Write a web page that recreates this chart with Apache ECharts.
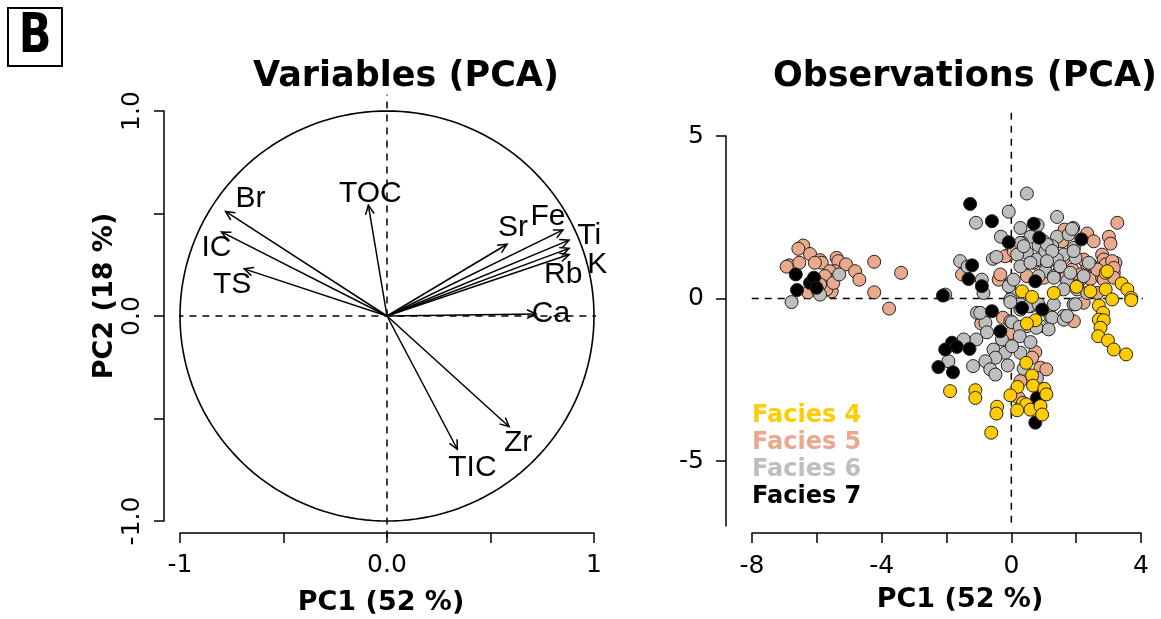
<!DOCTYPE html>
<html>
<head>
<meta charset="utf-8">
<script src="https://cdn.jsdelivr.net/npm/echarts@6/dist/echarts.min.js"></script>
<style>
  html, body { margin: 0; padding: 0; background: #ffffff; }
  #chart { width: 1161px; height: 619px; }
</style>
</head>
<body>
<div id="chart"></div>
<script>
// ---- Variables: PCA loadings on PC1 / PC2 ----
const variables   = ['Br', 'IC', 'TS', 'TOC', 'Sr', 'Fe', 'Ti', 'K', 'Rb', 'Ca', 'TIC', 'Zr'];
const pc1Loadings = [-0.78, -0.80, -0.69, -0.09, 0.58, 0.85, 0.88, 0.88, 0.88, 0.72, 0.34, 0.59];
const pc2Loadings = [0.51, 0.41, 0.23, 0.54, 0.35, 0.42, 0.37, 0.33, 0.30, 0.01, -0.65, -0.54];

// ---- Observations: PCA scores [PC1, PC2] per facies ----
const facies4Scores = [
  [2.91,0.79],[3.40,0.46],[3.58,0.28],[3.70,0.02],[2.44,0.22],[2.91,0.28],[1.31,0.17],[0.33,0.22],[0.64,0.05],[2.96,0.84],
  [2.01,0.36],[0.74,-0.67],[0.48,-0.77],[2.70,-0.22],[2.83,-0.44],[2.70,-0.65],[2.85,-0.67],[2.75,-0.90],[2.68,-1.16],
  [2.98,-1.29],[3.16,-1.57],[3.54,-1.72],[3.11,-0.03],[3.70,-0.05],[0.46,-1.98],[0.64,-2.37],[0.19,-2.72],[0.67,-2.68],
  [1.02,-2.78],[1.08,-2.95],[-0.03,-2.98],[0.36,-3.21],[0.46,-3.26],[0.59,-3.42],[0.90,-3.31],[0.95,-3.57],[0.18,-3.44],
  [-0.44,-3.33],[-0.46,-3.54],[-1.89,-2.85],[-1.11,-2.82],[-1.11,-3.06],[-0.62,-4.13]
];
const facies5Scores = [
  [-6.42,1.63],[-6.57,1.53],[-6.21,1.37],[-6.85,1.02],[-6.54,1.10],[-5.90,1.18],[-5.85,1.10],[-6.06,1.10],[-5.39,1.25],
  [-5.34,1.15],[-5.10,1.05],[-5.44,0.84],[-5.60,0.84],[-4.82,0.84],[-4.69,0.58],[-5.60,0.58],[-5.75,0.69],[-5.80,0.38],
  [-5.54,0.22],[-6.27,0.19],[-5.70,0.28],[-6.06,0.58],[-4.23,1.13],[-3.40,0.79],[-4.23,0.19],[-3.77,-0.31],[-5.90,0.43],
  [-5.49,0.48],[-6.93,0.98],
  [3.27,2.33],[1.64,2.12],[2.34,2.00],[3.01,1.90],[2.54,1.76],[3.06,1.69],[1.57,1.76],[-0.08,1.35],[-0.19,1.30],[0.69,1.10],
  [1.88,0.89],[2.80,1.35],[2.85,1.20],[3.21,1.10],[2.34,1.02],[2.70,0.89],[2.13,0.74],[2.44,0.60],[2.80,0.64],[3.16,0.79],
  [1.51,0.91],[0.48,0.69],[1.67,0.64],[2.65,0.17],[-1.52,0.74],[-0.39,0.58],[-0.34,0.74],[0.07,1.46],[1.62,1.25],[0.95,1.15],
  [2.91,1.05],[2.13,0.58],[2.23,1.20],[2.44,1.05],[2.65,0.89],[3.11,1.15],[3.16,0.94],[1.00,0.64],[2.85,0.58],[3.16,0.64],
  [1.93,-0.70],[2.23,-0.13],[-0.93,-0.77],[-0.26,-0.59],[-0.01,-1.06],[0.74,-1.65],[0.64,-1.82],[0.90,-2.13],[1.08,-2.18],
  [0.28,-2.54],[0.23,-3.06]
];
const facies6Scores = [
  [-6.78,-0.11],[-5.96,0.22],[-5.31,0.74],[-5.90,0.12],[-2.04,0.12],
  [0.48,3.23],[-0.08,2.67],[-1.09,2.33],[1.41,2.51],[0.81,2.26],[0.28,2.17],[1.91,2.17],[-0.32,1.90],[0.59,1.90],[1.00,1.76],
  [1.41,1.90],[1.77,1.97],[0.33,1.71],[0.84,1.63],[1.26,1.61],[1.62,1.35],[0.48,1.41],[0.18,1.35],[-0.57,1.22],[0.79,1.20],
  [1.10,1.10],[1.41,1.20],[1.98,1.25],[0.28,0.99],[1.05,0.84],[1.31,0.69],[2.03,0.38],[-0.91,0.58],[-1.58,1.15],[-1.35,0.98],
  [-0.05,0.43],[-0.86,0.17],[0.05,0.12],[-0.46,1.28],[1.93,1.56],[1.05,1.46],[2.39,1.10],[1.72,0.53],
  [1.87,2.14],[0.28,1.71],[0.38,1.61],[1.10,1.66],[1.26,1.46],[1.92,1.46],[0.59,1.10],[1.10,1.15],[1.51,0.99],[1.82,0.79],
  [2.23,0.69],[-0.08,0.38],[0.07,0.58],[0.84,0.69],[1.31,0.64],[1.61,0.28],[2.03,0.28],[2.34,0.17],
  [-0.03,-0.03],[0.28,-0.18],[0.59,-0.24],[1.92,-0.18],[-1.06,-0.44],[-0.80,-0.75],[-0.03,-0.70],[0.48,-0.85],[0.90,-0.85],
  [1.20,-0.54],[1.61,-0.54],
  [-0.96,-0.44],[-0.03,-0.11],[0.28,-0.34],[0.53,-0.24],[0.84,-0.18],[1.31,-0.18],[1.26,-0.59],[1.15,-0.95],[0.77,-0.90],
  [1.62,-0.65],[1.72,-0.54],[1.98,-0.18],[-0.75,-1.04],[0.02,-0.73],[0.26,-0.87],[-0.29,-1.26],[0.26,-1.16],[0.59,-1.34],
  [-1.08,-1.26],[-1.47,-1.26],[-0.55,-1.57],[-0.19,-1.67],[-0.49,-1.82],[0.28,-1.67],[0.02,-1.47],[-0.80,-1.93],[-1.18,-2.08],
  [-1.94,-1.93],[-0.65,-2.18],[-0.49,-2.34],[-0.11,-2.06],[0.38,-2.16],[0.79,-2.44]
];
const facies7Scores = [
  [-6.65,0.74],[-6.61,0.26],[-6.21,0.48],[-6.09,0.64],[-6.01,0.33],[-2.11,0.09],
  [-1.27,2.91],[-0.60,2.38],[0.69,2.30],[-0.08,1.73],[0.86,1.87],[2.16,1.82],[0.74,0.53],[-0.91,0.38],[-1.32,0.60],[-1.21,1.02],
  [-0.60,-0.39],[0.33,-0.29],[0.95,-0.34],[-0.34,-1.01],[-1.83,-1.36],[-2.04,-1.57],[-1.68,-1.49],[-1.29,-1.55],[-2.25,-2.11],
  [-1.80,-2.27],[0.79,-3.06],[0.74,-3.82]
];

// ---- Axis tick labels ----
const circleXTickLabels = { '-1': '-1', '0': '0.0', '1': '1' };
const circleYTickLabels = { '-1': '-1.0', '0': '0.0', '1': '1.0' };
const scoreXTickLabels  = [-8, -4, 0, 4];
const scoreYTickLabels  = [-5, 0, 5];

// ---- Styling ----
const faciesColors = {
  'Facies 4': '#FFCC00',
  'Facies 5': '#E9A98C',
  'Facies 6': '#BEBEBE',
  'Facies 7': '#000000'
};
// pixel offsets of each variable name from its arrow tip
const labelOffsets = {
  Br: [25, -13], IC: [-5, 16], TS: [-12, 16], TOC: [2, -12], Sr: [6, -17], Fe: [-15, -13],
  Ti: [20, -4], K: [28, 16], Rb: [-6, 20], Ca: [15, 0], TIC: [15, 18], Zr: [9, 16]
};
// extent of the zero reference lines (full plotting region of each panel)
const circlePlotRegion = { x: [-1.08, 1.08], y: [-1.08, 1.08] };
const scorePlotRegion  = { x: [-8.81, 5.2], y: [-6.9, 5.75] };

const tickFont = 'DejaVu Sans';
const boldFont = 'DejaVu Sans';

// unit correlation circle
const unitCircle = [];
for (let a = 0; a <= 360; a += 2) {
  const r = a * Math.PI / 180;
  unitCircle.push([Math.cos(r), Math.sin(r)]);
}

const chart = echarts.init(document.getElementById('chart'), null, { renderer: 'canvas' });

function axisBase(extra) {
  return Object.assign({
    type: 'value',
    splitLine: { show: false },
    axisLine: { show: true, onZero: false, lineStyle: { color: '#000', width: 1.5 } },
    axisTick: { show: true, length: 10, lineStyle: { color: '#000', width: 1.5 } },
    axisPointer: { show: false }
  }, extra);
}

const dashStyle = { color: '#000', width: 1.5, type: [7, 6] };
const tickLabelStyle = { color: '#000', fontFamily: tickFont, fontSize: 25 };
const axisNameStyle = { color: '#000', fontFamily: boldFont, fontWeight: 'bold', fontSize: 27 };

function arrowItem(params, api) {
  const i = params.dataIndex;
  const o = api.coord([0, 0]);
  const t = api.coord([api.value(0), api.value(1)]);
  const ang = Math.atan2(t[1] - o[1], t[0] - o[0]);
  const L = 10, spread = Math.PI / 7;
  const h1 = [t[0] - L * Math.cos(ang - spread), t[1] - L * Math.sin(ang - spread)];
  const h2 = [t[0] - L * Math.cos(ang + spread), t[1] - L * Math.sin(ang + spread)];
  const off = labelOffsets[variables[i]];
  return {
    type: 'group',
    children: [
      { type: 'line', shape: { x1: o[0], y1: o[1], x2: t[0], y2: t[1] },
        style: { stroke: '#000', lineWidth: 1.5 } },
      { type: 'polyline', shape: { points: [h1, t, h2] },
        style: { stroke: '#000', fill: null, lineWidth: 1.5 } },
      { type: 'text', x: t[0] + off[0], y: t[1] + off[1],
        style: { text: variables[i], fill: '#000', fontFamily: 'Liberation Sans', fontSize: 30,
                 align: 'center', verticalAlign: 'middle' } }
    ]
  };
}

function scoreSeries(name, data) {
  return {
    name: name,
    type: 'scatter',
    xAxisIndex: 1, yAxisIndex: 1,
    data: data,
    symbol: 'circle',
    symbolSize: 13,
    itemStyle: { color: faciesColors[name], borderColor: '#222', borderWidth: 1, opacity: 1 },
    emphasis: { disabled: true },
    clip: false,
    z: 5
  };
}

const option = {
  animation: false,
  backgroundColor: '#ffffff',
  grid: [
    { left: 180, top: 111, width: 414, height: 410, containLabel: false, outerBoundsMode: 'none' },
    { left: 752, top: 136, width: 389, height: 390, containLabel: false, outerBoundsMode: 'none' }
  ],
  xAxis: [
    axisBase({
      gridIndex: 0, min: -1, max: 1, interval: 0.5, position: 'bottom', offset: 12,
      axisLabel: Object.assign({ margin: 20, formatter: v => circleXTickLabels[String(v)] || '' }, tickLabelStyle),
      name: 'PC1 (52 %)', nameLocation: 'middle', nameGap: 56,
      nameTextStyle: Object.assign({ padding: [0, 12, 0, 0] }, axisNameStyle)
    }),
    axisBase({
      gridIndex: 1, min: -8, max: 4, interval: 2, position: 'bottom', offset: 7,
      axisLabel: Object.assign({ margin: 21,
        formatter: v => scoreXTickLabels.indexOf(v) >= 0 ? String(v) : '' }, tickLabelStyle),
      name: 'PC1 (52 %)', nameLocation: 'middle', nameGap: 53,
      nameTextStyle: Object.assign({ padding: [0, 0, 0, 27] }, axisNameStyle)
    })
  ],
  yAxis: [
    axisBase({
      gridIndex: 0, min: -1, max: 1, interval: 0.5, position: 'left', offset: 16,
      axisLabel: Object.assign({ margin: 19, rotate: 90,
        formatter: v => circleYTickLabels[String(v)] || '' }, tickLabelStyle),
      name: 'PC2 (18 %)', nameLocation: 'middle', nameGap: 46,
      nameTextStyle: Object.assign({ padding: [0, 0, 0, 40] }, axisNameStyle)
    }),
    axisBase({
      gridIndex: 1, min: -7, max: 5, interval: 1, position: 'left', offset: 26,
      axisTick: { show: true, length: 10, lineStyle: { color: '#000', width: 1.5 }, customValues: scoreYTickLabels },
      axisLabel: Object.assign({ margin: 22, customValues: scoreYTickLabels, formatter: v => String(v) }, tickLabelStyle)
    })
  ],
  legend: {
    orient: 'vertical', left: 747, top: 404, padding: 0,
    icon: 'none', itemWidth: 0, itemHeight: 24, itemGap: 3,
    selectedMode: false,
    textStyle: { fontFamily: boldFont, fontWeight: 'bold', fontSize: 24, lineHeight: 24 },
    data: Object.keys(faciesColors).map(n => ({ name: n, textStyle: { color: faciesColors[n] } }))
  },
  graphic: [
    { type: 'rect', shape: { x: 8, y: 8, width: 54, height: 58 },
      style: { fill: '#fff', stroke: '#000', lineWidth: 2 } },
    { type: 'text', x: 35, y: 38, scaleX: 0.78,
      style: { text: 'B', fill: '#000', fontFamily: boldFont, fontWeight: 'bold', fontSize: 55,
               align: 'center', verticalAlign: 'middle' } },
    { type: 'text', x: 406, y: 77,
      style: { text: 'Variables (PCA)', fill: '#000', fontFamily: boldFont, fontWeight: 'bold', fontSize: 35,
               align: 'center', verticalAlign: 'middle' } },
    { type: 'text', x: 965, y: 77,
      style: { text: 'Observations (PCA)', fill: '#000', fontFamily: boldFont, fontWeight: 'bold', fontSize: 35,
               align: 'center', verticalAlign: 'middle' } }
  ],
  series: [
    // zero reference lines, left panel
    { type: 'line', xAxisIndex: 0, yAxisIndex: 0, data: [[circlePlotRegion.x[0], 0], [circlePlotRegion.x[1], 0]],
      showSymbol: false, clip: false, lineStyle: dashStyle, silent: true },
    { type: 'line', xAxisIndex: 0, yAxisIndex: 0, data: [[0, circlePlotRegion.y[0]], [0, circlePlotRegion.y[1]]],
      showSymbol: false, clip: false, lineStyle: dashStyle, silent: true },
    // correlation circle
    { type: 'line', xAxisIndex: 0, yAxisIndex: 0, data: unitCircle, showSymbol: false, clip: false,
      lineStyle: { color: '#000', width: 1.6 }, silent: true },
    // loading arrows
    { type: 'custom', xAxisIndex: 0, yAxisIndex: 0, clip: false, silent: true,
      data: variables.map((v, i) => [pc1Loadings[i], pc2Loadings[i]]),
      renderItem: arrowItem, z: 4 },
    // zero reference lines, right panel
    { type: 'line', xAxisIndex: 1, yAxisIndex: 1, data: [[scorePlotRegion.x[0], 0], [scorePlotRegion.x[1], 0]],
      showSymbol: false, clip: false, lineStyle: dashStyle, silent: true },
    { type: 'line', xAxisIndex: 1, yAxisIndex: 1, data: [[0, scorePlotRegion.y[0]], [0, scorePlotRegion.y[1]]],
      showSymbol: false, clip: false, lineStyle: dashStyle, silent: true },
    scoreSeries('Facies 5', facies5Scores),
    scoreSeries('Facies 6', facies6Scores),
    scoreSeries('Facies 7', facies7Scores),
    scoreSeries('Facies 4', facies4Scores)
  ]
};

chart.setOption(option);
</script>
</body>
</html>
